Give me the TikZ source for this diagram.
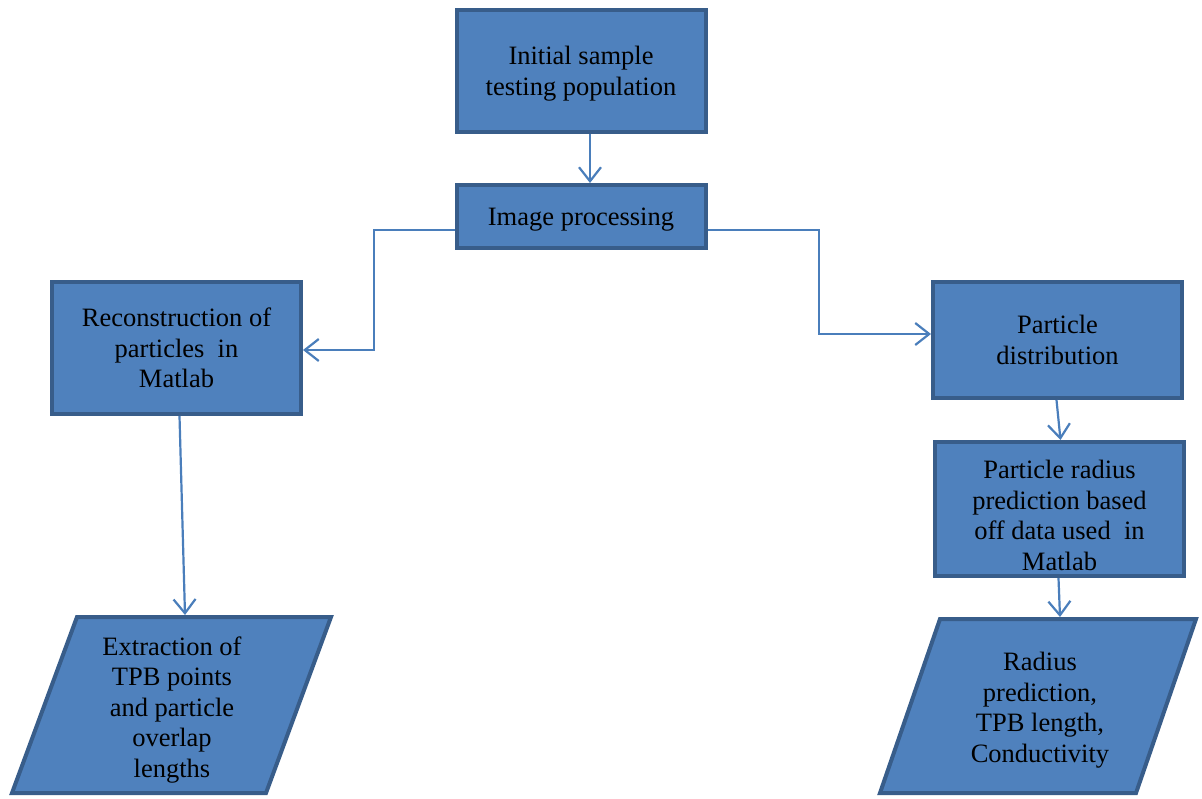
\documentclass[tikz,border=0pt]{standalone}
\usepackage{fontspec}
\setmainfont{Liberation Serif}
\newfontfamily\boxfont{Liberation Serif}
\usetikzlibrary{arrows.meta}
\definecolor{boxfill}{HTML}{4F81BD}
\definecolor{boxline}{HTML}{385D8A}
\definecolor{linkcol}{HTML}{4A7EBB}
\begin{document}
\begin{tikzpicture}[x=1pt,y=-1pt]
    \useasboundingbox (0,0) rectangle (1202,798);
    \begin{scope}[every node/.style={rectangle,draw=boxline,fill=boxfill,line width=4pt,
        minimum width=249pt,inner sep=0pt,align=center,text depth=0pt,
        font=\boxfont\fontsize{26.5}{30.5}\selectfont}]
    \node[minimum height=122pt,text depth=-2pt] (init) at (581,71) {Initial sample\\testing population};
    \node[minimum height=63pt,text depth=-6pt] (img) at (581,216.5) {Image processing};
    \node[minimum height=132pt] (recon) at (176.5,348) {Reconstruction of\\particles~ in\\Matlab};
    \node[minimum height=116pt] (dist) at (1057.5,340) {Particle\\distribution};
    \node[minimum height=130pt,text height=128pt,text depth=6pt] (radius) at (1059.5,509) {Particle radius\\prediction based\\off data used~ in\\Matlab};
    \end{scope}
    % output parallelograms
    \begin{scope}[draw=boxline,fill=boxfill,line width=4pt]
    \filldraw (77,617) -- (331,617) -- (266,793) -- (12,793) -- cycle;
    \filldraw (940,619) -- (1196,619) -- (1136,793) -- (880,793) -- cycle;
    \end{scope}
    \begin{scope}[every node/.style={align=center,inner sep=0pt,font=\boxfont\fontsize{26.5}{30.5}\selectfont}]
    \node (extract) at (172,710) {Extraction of\\TPB points\\and particle\\overlap\\lengths};
    \node (result) at (1040,710) {Radius\\prediction,\\TPB length,\\Conductivity};
    \end{scope}
    \coordinate (extracttop) at (185,615);
    \coordinate (resulttop) at (1060,617);
    \coordinate (kl) at (374,230);
    \coordinate (kr) at (819,230);
    \begin{scope}[linkcol,line width=2.2pt,-{Straight Barb[length=14pt,width=22pt,line width=2.2pt]}]
    \draw ([xshift=9pt]init.south) -- ([xshift=9pt]init.south |- img.north);
    \draw (kl -| img.west) -- (kl) |- ([yshift=-2pt]recon.east);
    \draw (kr -| img.east) -- (kr) |- ([yshift=6pt]dist.west);
    \draw ([xshift=3pt]recon.south) -- (extracttop);
    \draw ([xshift=-1pt]dist.south) -- ([xshift=1pt]radius.north);
    \draw ([xshift=-1pt]radius.south) -- (resulttop);
    \end{scope}
\end{tikzpicture}
\end{document}
